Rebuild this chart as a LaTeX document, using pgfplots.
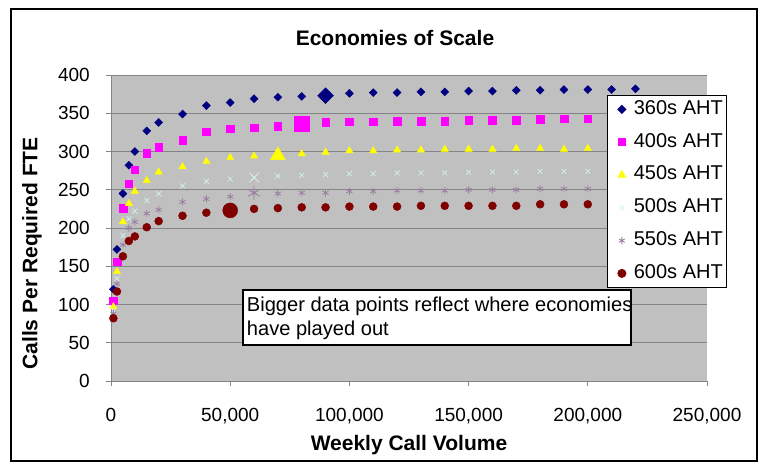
\documentclass[border=0pt]{standalone}
\usepackage{fontspec}
\setmainfont{Liberation Sans}
\usepackage{pgfplots}
\pgfplotsset{compat=1.18}
\definecolor{navyc}{HTML}{000080}
\definecolor{magc}{HTML}{FF00FF}
\definecolor{yelc}{HTML}{FFFF00}
\definecolor{cyac}{HTML}{D2F2F2}
\definecolor{purc}{HTML}{9A7FA0}
\definecolor{redc}{HTML}{800000}
\definecolor{plotgrey}{HTML}{C0C0C0}
\definecolor{gridc}{HTML}{858585}
\begin{document}
\begin{tikzpicture}
\path[use as bounding box] (0pt,0pt) rectangle (763pt,-466pt);
\fill[white] (0pt,0pt) rectangle (763pt,-466pt);
\draw[black, line width=1.3pt] (11pt,-9pt) rectangle (757pt,-461pt);
\node[font=\fontsize{21}{25}\selectfont\bfseries] at (395pt,-38pt) {Economies of Scale};
\begin{axis}[
  at={(111pt,-381pt)}, anchor=south west,
  scale only axis, width=596pt, height=306pt,
  xmin=0, xmax=250000, ymin=0, ymax=400,
  xtick={0,50000,100000,150000,200000,250000},
  ytick={0,50,100,150,200,250,300,350,400},
  scaled x ticks=false,
  /pgf/number format/assume math mode=true,
  xticklabel style={/pgf/number format/fixed, /pgf/number format/1000 sep={,}, anchor=base, yshift=-35pt},
  yticklabel style={anchor=east, inner sep=0pt, xshift=-16pt},
  tick label style={font=\fontsize{19}{22}\selectfont},
  axis background/.style={fill=plotgrey},
  ymajorgrids, major grid style={gridc, line width=0.9pt},
  axis lines=left, axis line style={-, gridc, line width=1pt},
  tick align=outside, major tick length=5pt, tick style={gridc, line width=1pt},
  xlabel={Weekly Call Volume}, ylabel={Calls Per Required FTE},
  label style={font=\fontsize{21}{25}\selectfont\bfseries},
  xlabel style={at={(axis description cs:0.5,-0.21)}, anchor=center},
  ylabel style={at={(axis description cs:-0.1326,0.417)}, anchor=center},
  legend style={at={(rel axis cs:0.832,0.935)}, anchor=north west,
    draw=black, line width=1pt, fill=white,
    font=\fontsize{20}{24}\selectfont, inner xsep=4pt, inner ysep=5pt,
    row sep=14.8pt, column sep=8pt,
    nodes={inner sep=0pt, text height=14pt, text depth=4pt}},
  legend cell align=left,
  legend image code/.code={\path (-10pt,0pt) (3pt,0pt); \draw[#1] plot coordinates {(0pt,0pt)};},
]
% 360s AHT
\addplot[only marks, mark=square*, mark size=2.83pt, mark options={rotate=45, navyc, fill=navyc}] coordinates {
(1000,120)(2500,172)(5000,245)(7500,282)(10000,300)(15000,327)(20000,338)(30000,349)(40000,360)(50000,364)(60000,369)(70000,371)(80000,372)(90000,373)(100000,376)(110000,377)(120000,377)(130000,378)(140000,378)(150000,379)(160000,379)(170000,380)(180000,380)(190000,381)(200000,381)(210000,381)(220000,382)};
\addlegendentry{360s AHT}
\addplot[only marks, forget plot, mark=square*, mark size=5.6pt, mark options={rotate=45, navyc, fill=navyc}] coordinates {(90000,373)};
% 400s AHT
\addplot[only marks, mark=square*, mark size=3.8pt, mark options={magc, fill=magc}] coordinates {
(1000,105)(2500,156)(5000,226)(7500,258)(10000,276)(15000,298)(20000,306)(30000,315)(40000,326)(50000,330)(60000,331)(70000,333)(80000,336)(90000,338)(100000,339)(110000,339)(120000,340)(130000,340)(140000,340)(150000,341)(160000,341)(170000,341)(180000,342)(190000,343)(200000,343)};
\addlegendentry{400s AHT}
\addplot[only marks, forget plot, mark=square*, mark size=7.5pt, mark options={magc, fill=magc}] coordinates {(80000,336)};
% 450s AHT
\addplot[only marks, mark=triangle*, mark size=4.2pt, mark options={yelc, fill=yelc}] coordinates {
(1000,97)(2500,143)(5000,208)(7500,232)(10000,248)(15000,262)(20000,273)(30000,280)(40000,287)(50000,292)(60000,294)(70000,295)(80000,297)(90000,299)(100000,301)(110000,301)(120000,302)(130000,302)(140000,303)(150000,303)(160000,303)(170000,304)(180000,304)(190000,303)(200000,304)};
\addlegendentry{450s AHT}
\addplot[only marks, forget plot, mark=triangle*, mark size=8.5pt, mark options={yelc, fill=yelc}] coordinates {(70000,295)};
% 500s AHT
\addplot[only marks, mark=x, mark size=3.5pt, mark options={cyac, line width=0.7pt}] coordinates {
(1000,92)(2500,134)(5000,190)(7500,212)(10000,222)(15000,236)(20000,245)(30000,255)(40000,261)(50000,264)(60000,266)(70000,268)(80000,269)(90000,270)(100000,271)(110000,271)(120000,272)(130000,272)(140000,272)(150000,273)(160000,273)(170000,273)(180000,274)(190000,274)(200000,274)};
\addlegendentry{500s AHT}
\addplot[only marks, forget plot, mark=x, mark size=7pt, mark options={cyac, line width=0.7pt}] coordinates {(60000,266)};
% 550s AHT
\addplot[only marks, mark=asterisk, mark size=3.5pt, mark options={purc, line width=0.8pt}] coordinates {
(1000,88)(2500,127)(5000,178)(7500,200)(10000,208)(15000,219)(20000,224)(30000,234)(40000,238)(50000,241)(60000,246)(70000,245)(80000,246)(90000,246)(100000,248)(110000,248)(120000,249)(130000,249)(140000,249)(150000,250)(160000,250)(170000,250)(180000,251)(190000,251)(200000,251)};
\addlegendentry{550s AHT}
\addplot[only marks, forget plot, mark=asterisk, mark size=7pt, mark options={purc, line width=0.8pt}] coordinates {(60000,246)};
% 600s AHT
\addplot[only marks, mark=*, mark size=4pt, mark options={redc, fill=redc}] coordinates {
(1000,82)(2500,117)(5000,163)(7500,183)(10000,189)(15000,201)(20000,209)(30000,216)(40000,220)(50000,223)(60000,225)(70000,226)(80000,227)(90000,227)(100000,228)(110000,228)(120000,228)(130000,229)(140000,229)(150000,229)(160000,229)(170000,229)(180000,231)(190000,231)(200000,231)};
\addlegendentry{600s AHT}
\addplot[only marks, forget plot, mark=*, mark size=7.5pt, mark options={redc, fill=redc}] coordinates {(50000,223)};
\end{axis}
\fill[white] (243pt,-290pt) rectangle (631pt,-345pt);
\begin{scope}
\clip (243pt,-290pt) rectangle (631pt,-345pt);
\node[anchor=base west, inner sep=0pt, font=\fontsize{20.1}{24}\selectfont] at (246.7pt,-311pt) {Bigger data points reflect where economies};
\node[anchor=base west, inner sep=0pt, font=\fontsize{20.1}{24}\selectfont] at (246.7pt,-335pt) {have played out};
\end{scope}
\draw[black, line width=1.5pt] (243pt,-290pt) rectangle (631pt,-345pt);
\end{tikzpicture}
\end{document}
